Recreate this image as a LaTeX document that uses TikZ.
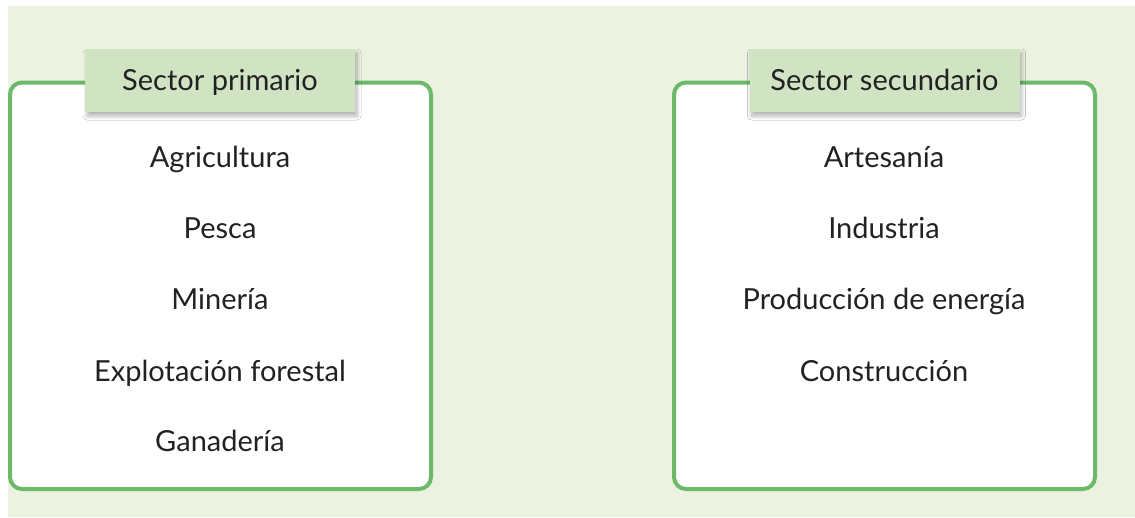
\documentclass[tikz,border=0pt]{standalone}
\usepackage{fontspec}
\setmainfont{Lato}
\usetikzlibrary{shadows.blur}
\definecolor{bgc}{HTML}{EBF2E0}
\definecolor{labc}{HTML}{D0E4C3}
\definecolor{linec}{HTML}{6CB96A}
\definecolor{txtc}{HTML}{222222}
\tikzset{
  sectorbox/.style={draw=linec, line width=4pt, fill=white, rounded corners=12pt},
  sectorlabel/.style={fill=labc, minimum width=270pt, minimum height=63pt, inner sep=0pt,
    text height=22pt, text depth=3pt,
    font=\fontsize{29}{34}\selectfont, text=txtc,
    blur shadow={shadow xshift=2pt, shadow yshift=-4pt, shadow blur steps=8, shadow blur radius=4pt, shadow opacity=30}},
  item/.style={font=\fontsize{29}{34}\selectfont, text=txtc, inner sep=0pt, anchor=base}
}
\begin{document}
\begin{tikzpicture}[x=1pt,y=-1pt]
\useasboundingbox (0,0) rectangle (1135,517);
\fill[white] (0,0) rectangle (1135,517);
\fill[bgc] (8,6) rectangle (1135,517);
% boxes
\draw[sectorbox] (10,82.5) rectangle (431,489);
\draw[sectorbox] (674,82.5) rectangle (1095,489);
% labels
\node[sectorlabel] (lp) at (220,80.5) {Sector primario};
\node[sectorlabel] (ls) at (884.5,80.5) {Sector secundario};
% primary items
\node[item] (p1) at (220,167) {Agricultura};
\node[item] (p2) at (220,238) {Pesca};
\node[item] (p3) at (220,309) {Minería};
\node[item] (p4) at (220,381) {Explotación forestal};
\node[item] (p5) at (220,451) {Ganadería};
% secondary items
\node[item] (s1) at (884,167) {Artesanía};
\node[item] (s2) at (884,238) {Industria};
\node[item] (s3) at (884,309) {Producción de energía};
\node[item] (s4) at (884,381) {Construcción};
\end{tikzpicture}
\end{document}
